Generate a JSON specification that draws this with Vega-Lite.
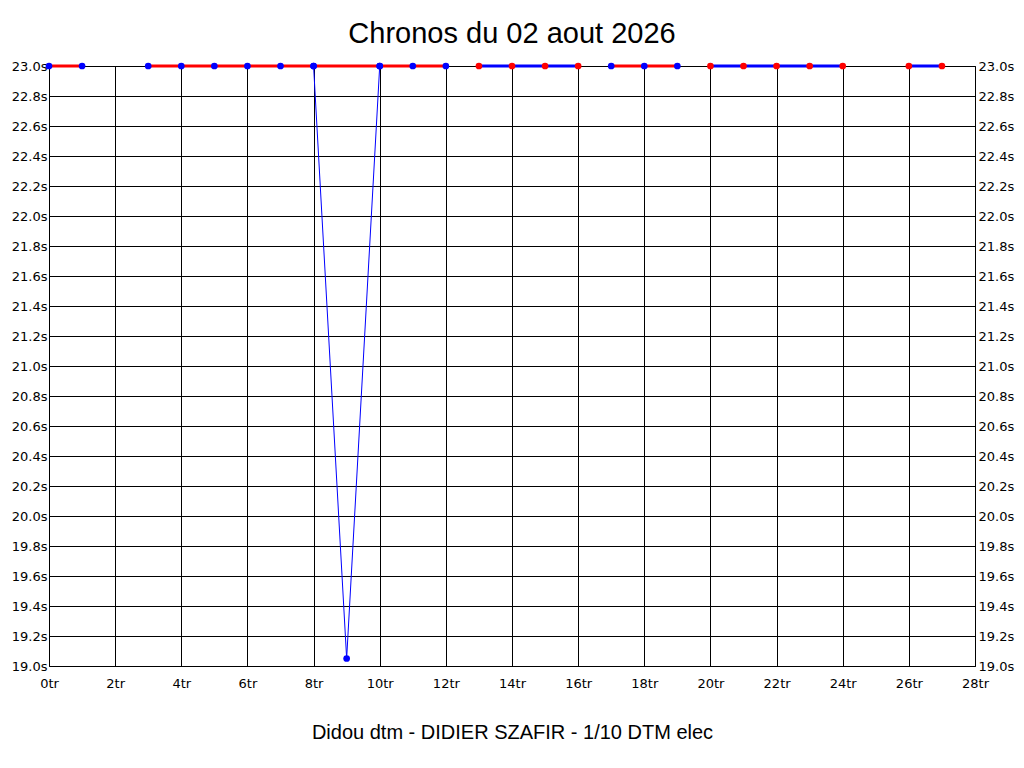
{
  "$schema": "https://vega.github.io/schema/vega-lite/v6.json",
  "autosize": "none",
  "width": 926,
  "height": 600,
  "padding": {"left": 49, "top": 66, "right": 49, "bottom": 102},
  "background": "white",
  "title": {
    "text": "Chronos du 02 aout 2026",
    "font": "Liberation Sans",
    "fontSize": 29,
    "fontWeight": "normal",
    "color": "black",
    "baseline": "bottom",
    "offset": -18
  },
  "data": {
    "values": [
      {"tour": 0, "temps": 23.0, "seg": "s1", "serie": "A"},
      {"tour": 1, "temps": 23.0, "seg": "s1", "serie": "A"},
      {"tour": 3, "temps": 23.0, "seg": "s2", "serie": "A"},
      {"tour": 4, "temps": 23.0, "seg": "s2", "serie": "A"},
      {"tour": 5, "temps": 23.0, "seg": "s2", "serie": "A"},
      {"tour": 6, "temps": 23.0, "seg": "s2", "serie": "A"},
      {"tour": 7, "temps": 23.0, "seg": "s2", "serie": "A"},
      {"tour": 8, "temps": 23.0, "seg": "s2", "serie": "A"},
      {"tour": 10, "temps": 23.0, "seg": "s2", "serie": "A"},
      {"tour": 11, "temps": 23.0, "seg": "s2", "serie": "A"},
      {"tour": 12, "temps": 23.0, "seg": "s2", "serie": "A"},
      {"tour": 8, "temps": 23.0, "seg": "dip", "serie": "A"},
      {"tour": 9, "temps": 19.05, "seg": "dip", "serie": "A"},
      {"tour": 10, "temps": 23.0, "seg": "dip", "serie": "A"},
      {"tour": 13, "temps": 23.0, "seg": "s3", "serie": "B"},
      {"tour": 14, "temps": 23.0, "seg": "s3", "serie": "B"},
      {"tour": 15, "temps": 23.0, "seg": "s3", "serie": "B"},
      {"tour": 16, "temps": 23.0, "seg": "s3", "serie": "B"},
      {"tour": 17, "temps": 23.0, "seg": "s4", "serie": "A"},
      {"tour": 18, "temps": 23.0, "seg": "s4", "serie": "A"},
      {"tour": 19, "temps": 23.0, "seg": "s4", "serie": "A"},
      {"tour": 20, "temps": 23.0, "seg": "s5", "serie": "B"},
      {"tour": 21, "temps": 23.0, "seg": "s5", "serie": "B"},
      {"tour": 22, "temps": 23.0, "seg": "s5", "serie": "B"},
      {"tour": 23, "temps": 23.0, "seg": "s5", "serie": "B"},
      {"tour": 24, "temps": 23.0, "seg": "s5", "serie": "B"},
      {"tour": 26, "temps": 23.0, "seg": "s6", "serie": "B"},
      {"tour": 27, "temps": 23.0, "seg": "s6", "serie": "B"}
    ]
  },
  "encoding": {
    "x": {
      "field": "tour",
      "type": "quantitative",
      "scale": {"domain": [0, 28], "nice": false, "zero": false},
      "axis": {
        "values": [0, 2, 4, 6, 8, 10, 12, 14, 16, 18, 20, 22, 24, 26, 28],
        "labelExpr": "datum.value + 'tr'",
        "title": "Didou dtm - DIDIER SZAFIR - 1/10 DTM elec",
        "titleFont": "Liberation Sans",
        "titleFontSize": 20,
        "titleFontWeight": "normal",
        "titleColor": "black",
        "titlePadding": 32,
        "labelPadding": 11,
        "grid": true
      }
    },
    "y": {
      "field": "temps",
      "type": "quantitative",
      "scale": {"domain": [19, 23], "nice": false, "zero": false},
      "axis": null
    }
  },
  "layer": [
    {
      "transform": [{"filter": "datum.seg == 'dip'"}],
      "mark": {"type": "line", "color": "#0000ff", "strokeWidth": 1},
      "encoding": {
        "y": {
          "field": "temps",
          "type": "quantitative",
          "axis": {
            "orient": "left",
            "values": [19.0, 19.2, 19.4, 19.6, 19.8, 20.0, 20.2, 20.4, 20.6, 20.8, 21.0, 21.2, 21.4, 21.6, 21.8, 22.0, 22.2, 22.4, 22.6, 22.8, 23.0],
            "labelExpr": "format(datum.value, '.1f') + 's'",
            "labelPadding": 2,
            "grid": true,
            "title": null
          }
        }
      }
    },
    {
      "transform": [{"filter": "datum.seg != 'dip'"}],
      "mark": {"type": "line", "strokeWidth": 3},
      "encoding": {
        "detail": {"field": "seg"},
        "color": {
          "field": "serie",
          "type": "nominal",
          "scale": {"domain": ["A", "B"], "range": ["#ff0000", "#0000ff"]},
          "legend": null
        }
      }
    },
    {
      "mark": {"type": "circle", "size": 45, "opacity": 1},
      "encoding": {
        "y": {
          "field": "temps",
          "type": "quantitative",
          "axis": {
            "orient": "right",
            "values": [19.0, 19.2, 19.4, 19.6, 19.8, 20.0, 20.2, 20.4, 20.6, 20.8, 21.0, 21.2, 21.4, 21.6, 21.8, 22.0, 22.2, 22.4, 22.6, 22.8, 23.0],
            "labelExpr": "format(datum.value, '.1f') + 's'",
            "labelPadding": 3,
            "grid": false,
            "title": null
          }
        },
        "fill": {
          "field": "serie",
          "type": "nominal",
          "scale": {"domain": ["A", "B"], "range": ["#0000ff", "#ff0000"]},
          "legend": null
        }
      }
    }
  ],
  "resolve": {"axis": {"y": "independent"}, "scale": {"color": "independent"}},
  "config": {
    "view": {"stroke": "black", "strokeWidth": 1},
    "axis": {
      "domain": false,
      "ticks": false,
      "gridColor": "black",
      "gridOpacity": 1,
      "gridWidth": 1,
      "labelFont": "DejaVu Sans",
      "labelFontSize": 13,
      "labelColor": "black",
      "labelFlush": false,
      "labelOverlap": false
    }
  }
}
